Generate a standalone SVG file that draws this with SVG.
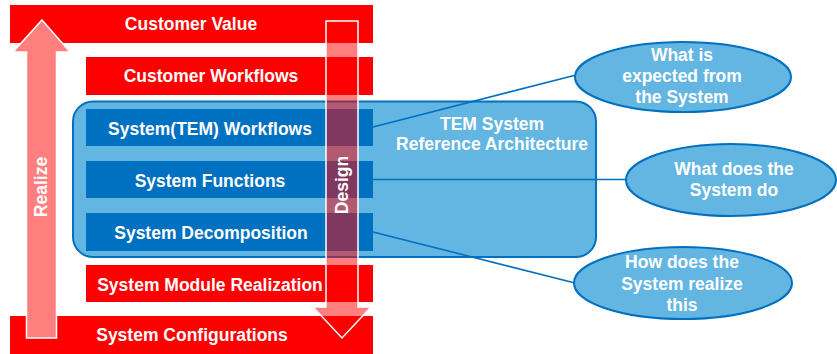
<svg xmlns="http://www.w3.org/2000/svg" width="837" height="354" viewBox="0 0 837 354">
<style>
.red{fill:#FF0000}
.dk{fill:#0070C0}
.lt{fill:#63B5E2;stroke:#0070C0;stroke-width:2}
.t{font-family:"Liberation Sans",Arial,sans-serif;font-weight:bold;font-size:17.5px;fill:#FFFFFF;text-anchor:middle}
.ln{stroke:#0070C0;stroke-width:1.6;fill:none}
</style>
<rect width="837" height="354" fill="#FFFFFF"/>
<g id="customer-value"><rect class="red" x="10" y="5" width="363" height="38"/><text class="t" x="191" y="30">Customer Value</text></g>
<g id="customer-workflows"><rect class="red" x="86" y="57" width="287" height="38"/><text class="t" x="211" y="82">Customer Workflows</text></g>
<g id="tem-reference-architecture"><rect class="lt" x="73" y="101.5" width="523" height="155.5" rx="20"/><text class="t" x="492" y="130">TEM System</text><text class="t" x="492" y="150">Reference Architecture</text></g>
<g id="system-tem-workflows"><rect class="dk" x="86" y="109" width="287" height="37"/><text class="t" x="210" y="135">System(TEM) Workflows</text></g>
<g id="system-functions"><rect class="dk" x="86" y="161" width="287" height="37"/><text class="t" x="210" y="187">System Functions</text></g>
<g id="system-decomposition"><rect class="dk" x="86" y="213" width="287" height="38"/><text class="t" x="211" y="239">System Decomposition</text></g>
<g id="system-module-realization"><rect class="red" x="86" y="265" width="287" height="37"/><text class="t" x="210" y="291">System Module Realization</text></g>
<g id="system-configurations"><rect class="red" x="10" y="316" width="363" height="38"/><text class="t" x="192" y="341">System Configurations</text></g>
<g id="connectors">
<line class="ln" x1="373" y1="127" x2="576" y2="75"/>
<line class="ln" x1="373" y1="179.5" x2="627" y2="179.5"/>
<line class="ln" x1="373" y1="232" x2="575" y2="283"/>
</g>
<g id="q-expected"><ellipse class="lt" cx="683" cy="77" rx="108" ry="35"/><text class="t" x="682" y="61">What is</text><text class="t" x="682" y="82">expected from</text><text class="t" x="682" y="103">the System</text></g>
<g id="q-does"><ellipse class="lt" cx="731" cy="180" rx="105" ry="36"/><text class="t" x="734" y="175">What does the</text><text class="t" x="734" y="196">System do</text></g>
<g id="q-realize"><ellipse class="lt" cx="683" cy="283" rx="109" ry="36"/><text class="t" x="682" y="268">How does the</text><text class="t" x="682" y="290">System realize</text><text class="t" x="682" y="311">this</text></g>
<g id="realize-arrow"><polygon points="42,20 70,52 56.5,52 56.5,338 26.5,338 26.5,52 13,52" fill="#FF7F7F" stroke="#FFFFFF" stroke-width="1.5"/><text class="t" transform="translate(47,187) rotate(-90)">Realize</text></g>
<g id="design-arrow"><polygon points="326,21 358,21 358,307 371,307 342,338 313,307 326,307" fill="#FF0000" fill-opacity="0.5" stroke="#FFFFFF" stroke-width="1.5"/><text class="t" transform="translate(348,185) rotate(-90)">Design</text></g>
</svg>
